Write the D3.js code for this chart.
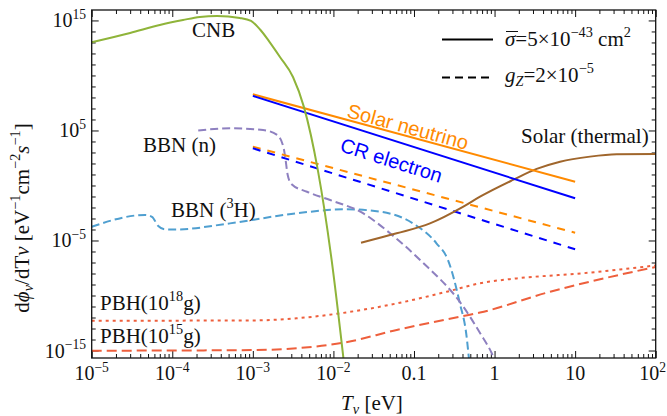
<!DOCTYPE html>
<html>
<head>
<meta charset="utf-8">
<script src="https://cdn.jsdelivr.net/npm/d3@7"></script>
<style>
  body { margin: 0; background: #fff; }
  svg text { font-family: 'Liberation Serif', 'Times New Roman', 'DejaVu Serif', serif; fill: #111; }
</style>
</head>
<body>
<svg id="chart" width="667" height="416"></svg>
<script>
// values, [T (eV), flux]
const cnb = [[1e-5, 1.05e13], [3.0e-5, 7.3e13], [7.0e-5, 3.9e14], [1.36e-4, 1.1e15], [2.2e-4, 2.1e15],
  [3.6e-4, 2.6e15], [6.9e-4, 1.7e15], [9.5e-4, 9e14], [1.23e-3, 1.5e14], [1.6e-3, 1.2e13],
  [2.17e-3, 4.8e11], [3.15e-3, 7.2e9], [4.3e-3, 1.4e7], [6.4e-3, 26], [9.5e-3, 1.7e-7], [1.33e-2, 2.1e-16]];
const solarNu = [[1e-3, 1.95e8], [10, 2.2]];
const crElectron = [[1e-3, 1.4e8], [10, 0.069]];
const solarNuZ = [[1e-3, 3.4e3], [10, 5.1e-5]];
const crElectronZ = [[1e-3, 2.4e3], [10, 1.6e-6]];
const solarThermal = [[0.022, 6.3e-6], [0.061, 4.5e-5], [0.158, 3.6e-4], [0.41, 1.2e-2], [0.66, 0.096],
  [1.69, 3.2], [3.33, 32], [6.5, 145], [15.3, 420], [32.8, 690], [100, 730]];
const bbnN = [[2.1e-4, 1e5], [5.2e-4, 1.6e5], [1.34e-3, 1.1e5], [2.0e-3, 4.0e4], [2.4e-3, 3.0e3],
  [2.55e-3, 2.1e2], [2.7e-3, 10], [3.03e-3, 1.3], [4.7e-3, 0.27], [9.1e-3, 0.048], [0.023, 3.2e-3],
  [0.050, 4.8e-5], [0.119, 1.7e-7], [0.41, 9.5e-12], [0.66, 3.9e-14], [0.92, 5.9e-16], [0.98, 2.1e-16]];
const bbnH3 = [[1e-5, 1.8e-4], [4.6e-5, 2.1e-3], [5.6e-5, 1.4e-3], [6.7e-5, 2.1e-4], [8.1e-5, 1.05e-4],
  [1.08e-4, 1e-4], [5.2e-4, 3.6e-4], [3.5e-3, 3.0e-3], [0.0146, 6.9e-3], [0.038, 4.2e-3], [0.097, 3.6e-4],
  [0.19, 5.6e-6], [0.264, 1.7e-7], [0.37, 2.1e-11], [0.45, 1.8e-14], [0.48, 2.1e-16]];
const pbh18 = [[1e-5, 5.1e-13], [1e-3, 5.4e-13], [3.5e-3, 8.5e-13], [0.0121, 2.4e-12], [0.061, 1.9e-11],
  [0.255, 2.2e-10], [0.66, 1.3e-9], [1.88, 3.6e-9], [12.5, 1.05e-8], [100, 5.4e-8]];
const pbh15 = [[1e-5, 9.6e-16], [1e-3, 1.1e-15], [3.5e-3, 1.6e-15], [0.0133, 5.1e-15], [0.061, 7.3e-14],
  [0.255, 6.9e-13], [0.66, 2.8e-12], [4.9, 2.2e-10], [52, 1.4e-8], [100, 3.9e-8]];

const xMajor = [1e-5, 1e-4, 1e-3, 1e-2, 0.1, 1, 10, 100];
const xTickLabels = ['10^-5', '10^-4', '10^-3', '10^-2', '0.1', '1', '10', '10^2'];
const yMajor = [1e-15, 1e-5, 1e5, 1e15];
const yTickLabels = ['10^-15', '10^-5', '10^5', '10^15'];

const frame = { left: 91.7, right: 655.7, top: 10, bottom: 358 };

const svg = d3.select('#chart');
const x = d3.scaleLog().domain([1e-5, 1e2]).range([frame.left, frame.right]);
const y = d3.scaleLog().domain([Math.pow(10, -15.68), Math.pow(10, 15.95)]).range([frame.bottom, frame.top]);

// write "10^-5" style strings as tspans
function powText(sel, s, size) {
  const [b, e] = s.split('^');
  sel.append('tspan').text(b);
  if (e !== undefined) {
    sel.append('tspan').attr('dy', -size * 0.42).attr('font-size', size * 0.68).text(e.replace('-', '\u2212'));
  }
}

// ticks, inward on all four sides
const xMinor = [];
xMajor.slice(0, -1).forEach(d => { for (let k = 2; k < 10; k++) xMinor.push(d * k); });
const yMinor = d3.range(-15, 16).map(e => Math.pow(10, e)).filter(v => !yMajor.some(m => Math.abs(Math.log10(m / v)) < 0.01));

const fs = 20, lfs = 21;
const ax = svg.append('g');
[[d3.axisBottom, frame.bottom, -7, xMajor], [d3.axisBottom, frame.bottom, -4, xMinor],
 [d3.axisTop, frame.top, -7, xMajor], [d3.axisTop, frame.top, -4, xMinor]].forEach(([f, pos, s, vals]) => {
  ax.append('g').attr('transform', 'translate(0,' + pos + ')')
    .call(f(x).tickValues(vals).tickSize(s).tickFormat(''));
});
[[d3.axisLeft, frame.left, -7, yMajor], [d3.axisLeft, frame.left, -4, yMinor],
 [d3.axisRight, frame.right, -7, yMajor], [d3.axisRight, frame.right, -4, yMinor]].forEach(([f, pos, s, vals]) => {
  ax.append('g').attr('transform', 'translate(' + pos + ',0)')
    .call(f(y).tickValues(vals).tickSize(s).tickFormat(''));
});
ax.selectAll('.domain').remove();
ax.selectAll('line').attr('stroke', '#111').attr('stroke-width', 1);

xMajor.forEach((v, i) => {
  const last = i === xMajor.length - 1;
  const t = svg.append('text').attr('x', last ? 666 : x(v)).attr('y', 380)
               .attr('text-anchor', last ? 'end' : 'middle').attr('font-size', fs);
  powText(t, xTickLabels[i], fs);
});
yMajor.forEach((v, i) => {
  const t = svg.append('text').attr('x', 86).attr('y', y(v) + 7).attr('text-anchor', 'end').attr('font-size', fs);
  powText(t, yTickLabels[i], fs);
});

// curves
svg.append('clipPath').attr('id', 'clip').append('rect')
   .attr('x', frame.left).attr('y', frame.top)
   .attr('width', frame.right - frame.left).attr('height', frame.bottom - frame.top);

const line = d3.line().x(d => x(d[0])).y(d => y(d[1])).curve(d3.curveMonotoneX);
const curves = svg.append('g').attr('clip-path', 'url(#clip)');
const series = [
  [pbh18, '#ee5f3c', '3,4'],
  [pbh15, '#ee5f3c', '10,5'],
  [bbnH3, '#4f9fd0', '8,4'],
  [bbnN, '#8e80c0', '8,4'],
  [solarNuZ, '#ff8a00', '8,7'],
  [crElectronZ, '#0000ff', '8,7'],
  [solarThermal, '#a0662c', null],
  [solarNu, '#ff8a00', null],
  [crElectron, '#0000ff', null],
  [cnb, '#8fb43a', null]
];
series.forEach(([data, color, dash]) => {
  curves.append('path').datum(data)
        .attr('d', line)
        .attr('fill', 'none')
        .attr('stroke', color)
        .attr('stroke-width', 2)
        .attr('stroke-dasharray', dash);
});

svg.append('rect').attr('x', frame.left).attr('y', frame.top)
   .attr('width', frame.right - frame.left).attr('height', frame.bottom - frame.top)
   .attr('fill', 'none').attr('stroke', '#111').attr('stroke-width', 1.3);

// curve labels
const label = (tx, ty, parts) => {
  const t = svg.append('text').attr('x', tx).attr('y', ty).attr('font-size', lfs);
  parts.forEach(p => {
    const s = t.append('tspan').text(p.t);
    if (p.sup) s.attr('dy', p.dy).attr('font-size', lfs * 0.68);
    if (p.back) s.attr('dy', p.dy);
  });
  return t;
};
label(192, 37, [{ t: 'CNB' }]);
label(143, 152, [{ t: 'BBN (n)' }]);
label(171, 217, [{ t: 'BBN (' }, { t: '3', sup: true, dy: -9 }, { t: 'H)', back: true, dy: 9 }]);
label(521, 143, [{ t: 'Solar (thermal)' }]);
label(100, 310, [{ t: 'PBH(10' }, { t: '18', sup: true, dy: -9 }, { t: 'g)', back: true, dy: 9 }]);
label(100, 343, [{ t: 'PBH(10' }, { t: '15', sup: true, dy: -9 }, { t: 'g)', back: true, dy: 9 }]);

svg.append('text').attr('transform', 'translate(346,117) rotate(15.3)')
   .attr('font-size', 20).style('font-family', "'Liberation Sans', Arial, sans-serif").style('fill', '#ff8a00')
   .text('Solar neutrino');
svg.append('text').attr('transform', 'translate(339,151) rotate(17.5)')
   .attr('font-size', 20).style('font-family', "'Liberation Sans', Arial, sans-serif").style('fill', '#0000ff')
   .text('CR electron');

// legend
svg.append('line').attr('x1', 442).attr('x2', 493).attr('y1', 39.5).attr('y2', 39.5)
   .attr('stroke', '#000').attr('stroke-width', 2.2);
svg.append('line').attr('x1', 442).attr('x2', 493).attr('y1', 77.5).attr('y2', 77.5)
   .attr('stroke', '#000').attr('stroke-width', 2.2).attr('stroke-dasharray', '8,5');
const l1 = svg.append('text').attr('x', 505).attr('y', 46).attr('font-size', lfs);
const sig = l1.append('tspan').style('font-style', 'italic').text('\u03c3');
l1.append('tspan').text('=5\u00d710');
l1.append('tspan').attr('dy', -9).attr('font-size', lfs * 0.68).text('\u221243');
l1.append('tspan').attr('dy', 9).text(' cm');
l1.append('tspan').attr('dy', -9).attr('font-size', lfs * 0.68).text('2');
const sb = sig.node().getBBox();
svg.append('line').attr('x1', sb.x + 1).attr('x2', sb.x + sb.width + 1).attr('y1', 31.5).attr('y2', 31.5)
   .attr('stroke', '#111').attr('stroke-width', 1);
const l2 = svg.append('text').attr('x', 505).attr('y', 82).attr('font-size', lfs);
l2.append('tspan').style('font-style', 'italic').text('g');
l2.append('tspan').attr('dy', 4).attr('font-size', lfs * 0.68).style('font-style', 'italic').text('Z');
l2.append('tspan').attr('dy', -4).text('=2\u00d710');
l2.append('tspan').attr('dy', -9).attr('font-size', lfs * 0.68).text('\u22125');

// axis titles
const xt = svg.append('text').attr('x', 372).attr('y', 410).attr('text-anchor', 'middle').attr('font-size', lfs);
xt.append('tspan').style('font-style', 'italic').text('T');
xt.append('tspan').attr('dy', 4).attr('font-size', lfs * 0.68).style('font-style', 'italic').text('\u03bd');
xt.append('tspan').attr('dy', -4).text(' [eV]');

const yt = svg.append('text').attr('transform', 'translate(29,218) rotate(-90)')
   .attr('text-anchor', 'middle').attr('font-size', lfs);
yt.append('tspan').text('d');
yt.append('tspan').style('font-style', 'italic').text('\u03d5');
yt.append('tspan').attr('dy', 4).attr('font-size', lfs * 0.68).style('font-style', 'italic').text('\u03bd');
yt.append('tspan').attr('dy', -4).text('/dT');
yt.append('tspan').style('font-style', 'italic').text('\u03bd');
yt.append('tspan').text(' [eV');
yt.append('tspan').attr('dy', -9).attr('font-size', lfs * 0.68).text('\u22121');
yt.append('tspan').attr('dy', 9).text('cm');
yt.append('tspan').attr('dy', -9).attr('font-size', lfs * 0.68).text('\u22122');
yt.append('tspan').attr('dy', 9).style('font-style', 'italic').text('s');
yt.append('tspan').attr('dy', -9).attr('font-size', lfs * 0.68).text('\u22121');
yt.append('tspan').attr('dy', 9).text(']');
</script>
</body>
</html>
